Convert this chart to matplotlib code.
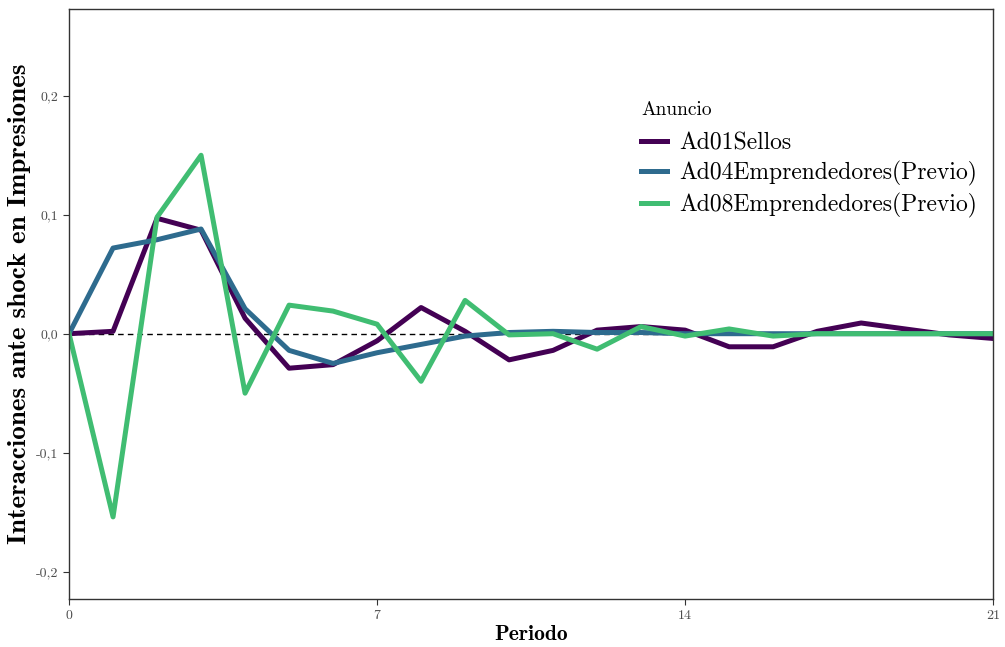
import matplotlib
matplotlib.use("Agg")
import matplotlib.pyplot as plt

periodos = list(range(22))

ad01_sellos = [0.000, 0.002, 0.097, 0.087, 0.013, -0.029, -0.026, -0.006, 0.022, 0.002,
               -0.022, -0.014, 0.003, 0.006, 0.003, -0.011, -0.011, 0.002, 0.009, 0.004,
               -0.001, -0.004]
ad04_emprendedores = [0.000, 0.072, 0.079, 0.088, 0.021, -0.014, -0.025, -0.016, -0.009, -0.002,
                      0.001, 0.002, 0.001, 0.001, 0.000, 0.000, 0.000, 0.000, 0.000, 0.000,
                      0.000, 0.000]
ad08_emprendedores = [0.000, -0.154, 0.098, 0.150, -0.050, 0.024, 0.019, 0.008, -0.040, 0.028,
                      -0.001, 0.000, -0.013, 0.006, -0.002, 0.004, -0.002, 0.000, 0.000, 0.000,
                      0.000, 0.000]

etiquetas = ["Ad01Sellos", "Ad04Emprendedores(Previo)", "Ad08Emprendedores(Previo)"]
colores = ["#440154", "#2e6b8e", "#40bd72"]

y_ticks = [-0.2, -0.1, 0.0, 0.1, 0.2]
y_tick_labels = ["-0,2", "-0,1", "0,0", "0,1", "0,2"]
x_ticks = [0, 7, 14, 21]

fig = plt.figure(figsize=(10.05, 6.47), dpi=100)
ax = fig.add_axes([0.0687, 0.0742, 0.9195, 0.912])

ax.axhline(0, color="black", linestyle=(0, (4, 3)), linewidth=1.0, zorder=1)

for serie, etiqueta, color in zip([ad01_sellos, ad04_emprendedores, ad08_emprendedores], etiquetas, colores):
    ax.plot(periodos, serie, color=color, linewidth=3.6, label=etiqueta, zorder=2)

ax.set_xlim(0, 21)
ax.set_ylim(-0.223, 0.273)
ax.set_xticks(x_ticks)
ax.set_xticklabels([str(t) for t in x_ticks], fontfamily="cmr10", fontsize=10, color="#4d4d4d")
ax.set_yticks(y_ticks)
ax.set_yticklabels(y_tick_labels, fontfamily="cmr10", fontsize=10, color="#4d4d4d")
ax.tick_params(axis="both", direction="out", length=4, width=0.8, color="#333333", pad=4)

for lado in ["top", "right", "bottom", "left"]:
    ax.spines[lado].set_color("#333333")
    ax.spines[lado].set_linewidth(1.0)

ax.set_xlabel("Periodo", fontfamily="cmb10", fontsize=15.5, labelpad=2)
ax.set_ylabel("Interacciones ante shock en Impresiones", fontfamily="cmb10", fontsize=19.5, labelpad=3)

leg = ax.legend(loc="upper left", bbox_to_anchor=(0.596, 0.879), frameon=False,
                title="Anuncio", prop={"family": "cmr10", "size": 17},
                handlelength=1.1, handletextpad=0.5, labelspacing=0.28, alignment="left")
leg.get_title().set_fontfamily("cmr10")
leg.get_title().set_fontsize(14)
# separacion extra entre el titulo y las entradas
leg._legend_box.sep = 9

fig.savefig("out.png", dpi=100)
